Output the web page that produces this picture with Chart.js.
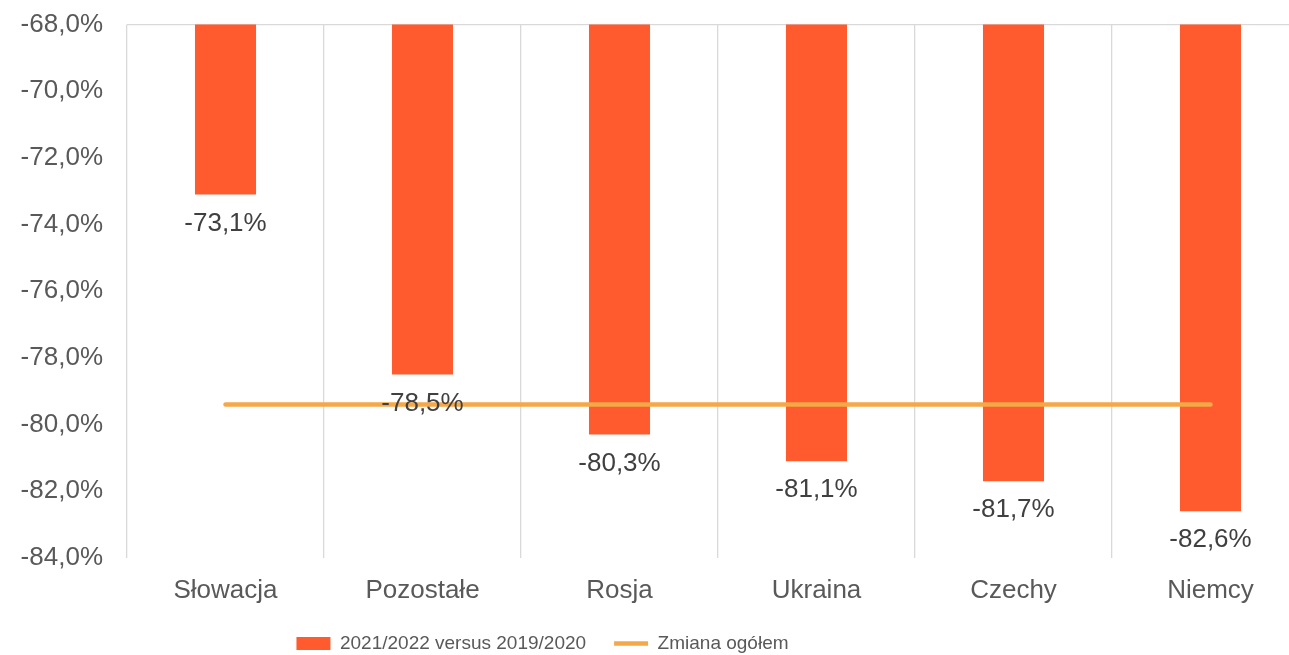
<!DOCTYPE html>
<html>
<head>
<meta charset="utf-8">
<script src="https://cdn.jsdelivr.net/npm/chart.js@4/dist/chart.umd.min.js"></script>
<style>
  html, body { margin: 0; padding: 0; overflow: hidden; background: #fff; }
  #wrap { position: absolute; left: -224px; top: -15px; width: 1536px; height: 678px; }
</style>
</head>
<body>
<div id="wrap"><canvas id="wykres"></canvas></div>
<script>
// kategorie (kraje)
const kraje = ["Słowacja", "Pozostałe", "Rosja", "Ukraina", "Czechy", "Niemcy"];
// zmiana 2021/2022 vs 2019/2020 w %
const zmiana = [-73.1, -78.5, -80.3, -81.1, -81.7, -82.6];
// zmiana ogółem (linia)
const ogolem = [-79.4, -79.4, -79.4, -79.4, -79.4, -79.4];
// oś y
const osMin = -84;
const osMax = -68;
const osKrok = 2;

const procent = (v, d) => v.toFixed(d).replace('.', ',') + '%';

// etykiety pod końcem słupków (dataset 1 = słupki)
const etykiety = {
  id: 'etykiety',
  afterDatasetsDraw(chart) {
    const ctx = chart.ctx;
    const meta = chart.getDatasetMeta(1);
    ctx.save();
    ctx.font = '26px "Liberation Sans", Arial, sans-serif';
    ctx.fillStyle = '#404040';
    ctx.textAlign = 'center';
    ctx.textBaseline = 'middle';
    meta.data.forEach((bar, i) => {
      ctx.fillText(procent(zmiana[i], 1), bar.x, bar.y + 29);
    });
    ctx.restore();
  }
};

const data = {
  labels: kraje,
  datasets: [
    {
      type: 'line',
      label: 'Zmiana ogółem',
      data: ogolem,
      borderColor: '#F5A847',
      backgroundColor: '#F5A847',
      borderWidth: 4.5,
      borderCapStyle: 'round',
      pointRadius: 0,
      pointStyle: 'line',
      order: 1
    },
    {
      type: 'bar',
      label: '2021/2022 versus 2019/2020',
      data: zmiana,
      backgroundColor: '#FF5B2E',
      borderWidth: 0,
      barPercentage: 0.31,
      categoryPercentage: 1,
      pointStyle: 'rect',
      order: 2
    }
  ]
};

const config = {
  data,
  options: {
    responsive: true,
    maintainAspectRatio: false,
    animation: false,
    layout: { padding: { left: 0, right: 3, top: 11, bottom: 0 } },
    plugins: {
      tooltip: { enabled: false },
      legend: {
        position: 'bottom',
        reverse: true,
        labels: {
          usePointStyle: true,
          pointStyleWidth: 34,
          boxHeight: 13,
          padding: 28,
          color: '#595959',
          font: { family: '"Liberation Sans", Arial, sans-serif', size: 19 }
        }
      }
    },
    scales: {
      x: {
        offset: true,
        grid: { offset: true, color: '#d9d9d9', lineWidth: 1.3, drawTicks: false },
        border: { display: false },
        afterFit: (s) => { s.height -= 17; },
        ticks: {
          padding: 17,
          color: '#595959',
          font: { family: '"Liberation Sans", Arial, sans-serif', size: 26 }
        }
      },
      y: {
        min: osMin,
        max: osMax,
        grid: {
          drawTicks: false,
          color: (c) => (c.tick && c.tick.value === osMax ? '#d9d9d9' : 'rgba(0,0,0,0)'),
          lineWidth: 1.3
        },
        border: { display: false },
        afterFit: (s) => { s.width = 351; },
        ticks: {
          stepSize: osKrok,
          padding: 24,
          color: '#595959',
          font: { family: '"Liberation Sans", Arial, sans-serif', size: 26 },
          callback: (v) => procent(v, 1)
        }
      }
    }
  },
  plugins: [etykiety]
};

new Chart(document.getElementById('wykres'), config);
</script>
</body>
</html>
